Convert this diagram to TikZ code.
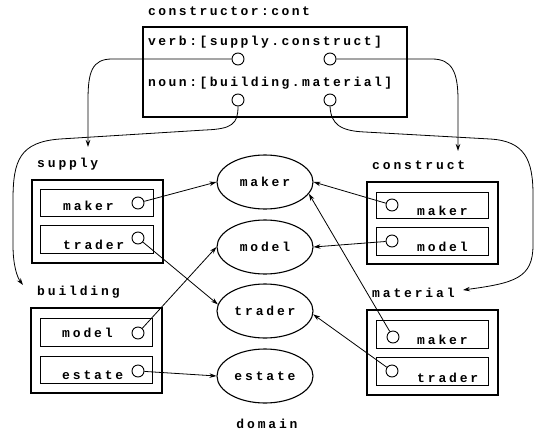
\documentclass[tikz,border=0pt]{standalone}
\usepackage{fontspec}
\newfontfamily\tw[LetterSpace=22]{Liberation Mono}
\newfontfamily\twn[LetterSpace=19]{Liberation Mono}
\usetikzlibrary{shapes.geometric,arrows.meta}
\begin{document}
\begin{tikzpicture}[x=1pt,y=-1pt,
  txt/.style={anchor=base west,inner sep=0pt,font=\tw\bfseries\fontsize{13}{13}\selectfont},
  ntxt/.style={anchor=base west,inner sep=0pt,font=\twn\bfseries\fontsize{13}{13}\selectfont},
  outerbox/.style={draw,rectangle,line width=1.6pt,inner sep=0pt},
  innerbox/.style={draw,rectangle,line width=0.8pt,inner sep=0pt},
  port/.style={draw,circle,minimum size=12pt,inner sep=0pt,line width=0.9pt,fill=white},
  dom/.style={draw,ellipse,minimum width=96pt,minimum height=54pt,inner sep=0pt,line width=1.1pt,font=\tw\bfseries\fontsize{13}{13}\selectfont},
  conn/.style={line width=0.8pt,-{Stealth[length=7pt,width=4.5pt]}}]
\path[use as bounding box] (0,0) rectangle (537,431);

% top box
\node[ntxt] (ttl) at (148,16) {constructor:cont};
\node[outerbox,line width=1.8pt,minimum width=264pt,minimum height=90pt] (top) at (275,72) {};
\node[ntxt] (verb) at (148,45) {verb:[supply.construct]};
\node[ntxt] (noun) at (148,86) {noun:[building.material]};

% supply
\node[txt] (lsup) at (37,167) {supply};
\node[outerbox,minimum width=131pt,minimum height=83pt] (sup) at (97.5,221.5) {};
\node[innerbox,minimum width=113pt,minimum height=27pt] (supa) at (96.5,202.5) {};
\node[innerbox,minimum width=113pt,minimum height=28pt] (supb) at (96.5,239) {};
\node[txt] (tsm) at (63,210) {maker};
\node[txt] (tst) at (63,249) {trader};

% building
\node[txt] (lbld) at (37,295) {building};
\node[outerbox,minimum width=131pt,minimum height=85pt] (bld) at (96.5,350.5) {};
\node[innerbox,minimum width=112pt,minimum height=28pt] (blda) at (96,332) {};
\node[innerbox,minimum width=112pt,minimum height=27pt] (bldb) at (96,369.5) {};
\node[txt] (tbm) at (62,337) {model};
\node[txt] (tbe) at (62,379) {estate};

% construct
\node[txt] (lcon) at (372,169) {construct};
\node[outerbox,minimum width=131pt,minimum height=82pt] (con) at (432.5,223) {};
\node[innerbox,minimum width=112pt,minimum height=26pt] (cona) at (432,205) {};
\node[innerbox,minimum width=112pt,minimum height=28pt] (conb) at (432,241) {};
\node[txt] (tcm) at (417,215) {maker};
\node[txt] (tcmo) at (417,251) {model};

% material
\node[txt] (lmat) at (372,297) {material};
\node[outerbox,minimum width=131pt,minimum height=85pt] (mat) at (432.5,352.5) {};
\node[innerbox,minimum width=112pt,minimum height=28pt] (mata) at (432,334) {};
\node[innerbox,minimum width=112pt,minimum height=28pt] (matb) at (432,371) {};
\node[txt] (tmm) at (417,344) {maker};
\node[txt] (tmt) at (417,382) {trader};

% domain
\node[dom] (emaker) at (265,182) {maker};
\node[dom] (emodel) at (265,247) {model};
\node[dom] (etrader) at (265,311) {trader};
\node[dom] (eestate) at (265,376) {estate};
\node[txt,anchor=base] (ldom) at (267,428) {domain};

% ports
\node[port] (c1) at (238,59) {};
\node[port] (c2) at (330,59) {};
\node[port] (c3) at (238,100) {};
\node[port] (c4) at (330,100) {};
\node[port] (sm) at (138,203) {};
\node[port] (st) at (138,238) {};
\node[port] (bm) at (138,333) {};
\node[port] (be) at (138,371) {};
\node[port] (cm) at (392,205) {};
\node[port] (cmo) at (392,241) {};
\node[port] (mm) at (393,337) {};
\node[port] (mt) at (392,371) {};

% entry points of the long connectors
\coordinate (supin) at (88,147);
\coordinate (conin) at (458,151);
\coordinate (bldin) at (23,285);
\coordinate (matin) at (463,290);

\draw[conn] (c1.west) -- (112,59) .. controls (92,59) and (88,72) .. (88,100) -- (supin);
\draw[conn] (c2.east) -- (432,59) .. controls (452,59) and (458,72) .. (458,100) -- (conin);
\draw[conn] (c3.south) .. controls (238,124) and (232,129) .. (205,130) -- (60,139)
   .. controls (20,142) and (13,160) .. (13,200) -- (13,245) .. controls (13,265) and (17,277) .. (bldin);
\draw[conn] (c4.south) .. controls (331,124) and (340,131) .. (365,132) -- (490,139)
   .. controls (525,141) and (533,160) .. (533,195) -- (533,245) .. controls (533,278) and (515,283) .. (matin);

% mappings to domain
\draw[conn] (sm) -- (emaker.west);
\draw[conn] (st) -- (etrader.172);
\draw[conn] (bm) -- (emodel.west);
\draw[conn] (be) -- (eestate.west);
\draw[conn] (cm) -- (emaker.east);
\draw[conn] (cmo) -- (emodel.east);
\draw[conn] (mm) -- (emaker.-15);
\draw[conn] (mt) -- (etrader.-4);
\end{tikzpicture}
\end{document}
